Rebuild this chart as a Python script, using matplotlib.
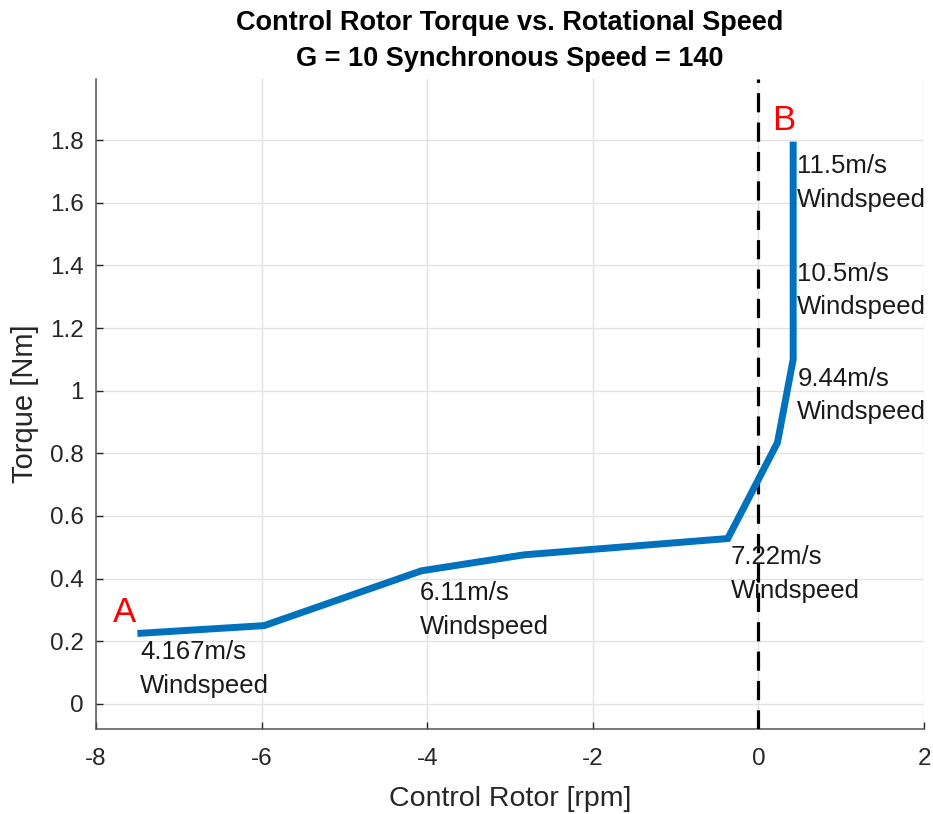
import matplotlib
matplotlib.use("Agg")
import matplotlib.pyplot as plt

rotor_rpm = [-7.5, -5.97, -4.07, -2.83, -0.37, 0.23, 0.42, 0.42]
torque_nm = [0.225, 0.25, 0.425, 0.476, 0.528, 0.834, 1.10, 1.795]

label_texts = ["4.167m/s\nWindspeed", "6.11m/s\nWindspeed", "7.22m/s\nWindspeed",
               "9.44m/s\nWindspeed", "10.5m/s\nWindspeed", "11.5m/s\nWindspeed"]
label_x = [-7.47, -4.09, -0.33, 0.47, 0.47, 0.47]
label_y = [0.203, 0.392, 0.506, 1.076, 1.412, 1.755]

x_ticks = [-8, -6, -4, -2, 0, 2]
y_ticks = [0, 0.2, 0.4, 0.6, 0.8, 1.0, 1.2, 1.4, 1.6, 1.8]
y_tick_labels = ["0", "0.2", "0.4", "0.6", "0.8", "1", "1.2", "1.4", "1.6", "1.8"]

plt.rcParams['font.family'] = ['Liberation Sans', 'DejaVu Sans']
plt.rcParams['axes.unicode_minus'] = False

fig = plt.figure(figsize=(9.33, 8.14), dpi=100)
ax = fig.add_axes([96/933, 1 - 729/814, (924 - 96)/933, (729 - 79)/814])

ax.grid(True, color='#e3e3e3', linewidth=1.0)
ax.set_axisbelow(True)
ax.axvline(0, color='black', linestyle=(0, (6, 3.2)), linewidth=2.3, zorder=3)
ax.plot(rotor_rpm, torque_nm, color='#0072BD', linewidth=5.0, solid_capstyle='butt',
        solid_joinstyle='miter', zorder=4)

for t, x, y in zip(label_texts, label_x, label_y):
    ax.text(x, y, t, fontsize=18.5, va='top', ha='left', color='#1a1a1a',
            linespacing=1.5, zorder=5)

ax.text(-7.79, 0.262, "A", fontsize=25, color='red', ha='left', va='baseline')
ax.text(0.17, 1.832, "B", fontsize=25, color='red', ha='left', va='baseline')

ax.set_xlim(-8, 2)
ax.set_ylim(-0.08, 1.995)
ax.set_xticks(x_ticks)
ax.set_yticks(y_ticks)
ax.set_yticklabels(y_tick_labels)
ax.tick_params(direction='in', length=5, labelsize=17.5, colors='#262626', width=1,
               pad=9)
ax.tick_params(axis='x', pad=14)
for s in ['top', 'right']:
    ax.spines[s].set_visible(False)
for s in ['left', 'bottom']:
    ax.spines[s].set_color('#555555')
    ax.spines[s].set_linewidth(1.1)

ax.set_xlabel("Control Rotor [rpm]", fontsize=20.5, color='#262626', labelpad=11)
ax.set_ylabel("Torque [Nm]", fontsize=21, color='#262626', labelpad=8)
ax.set_title("Control Rotor Torque vs. Rotational Speed\nG = 10 Synchronous Speed = 140",
             fontsize=19.5, fontweight='bold', linespacing=1.5, pad=9)

fig.savefig("out.png", dpi=100)
